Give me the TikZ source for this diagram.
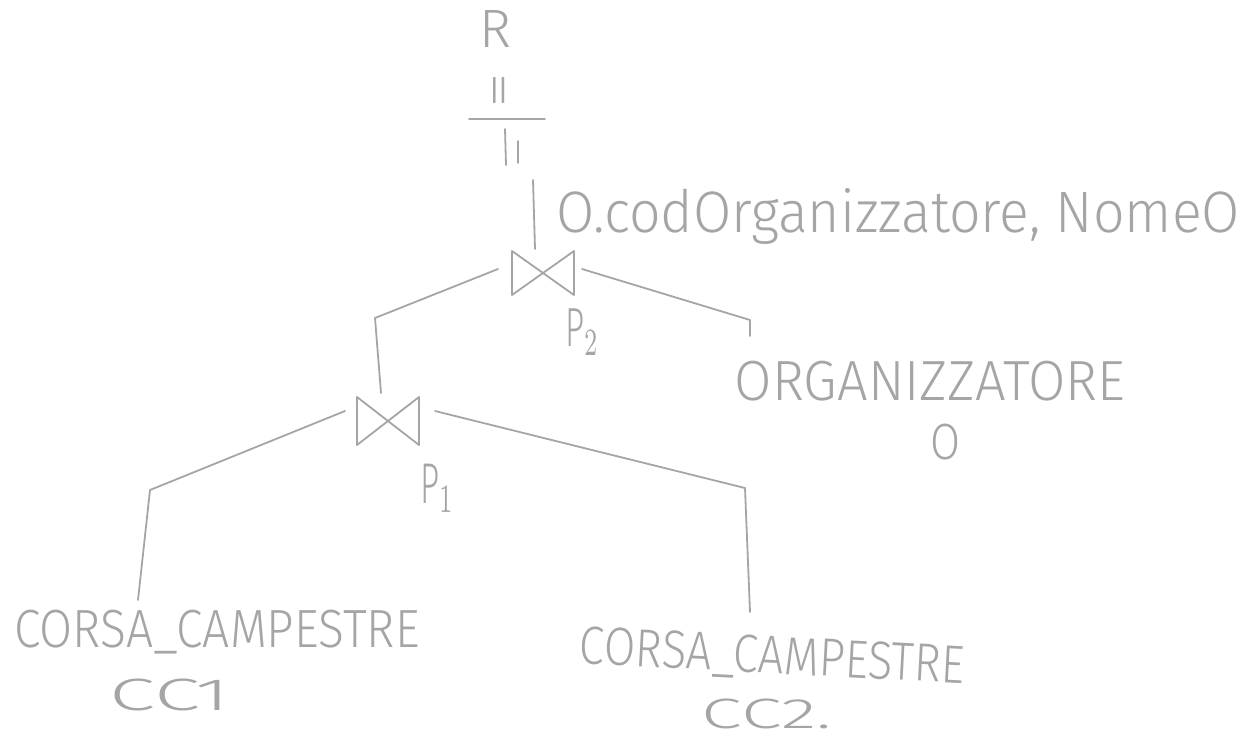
\documentclass[tikz,border=0pt]{standalone}
\usepackage{fontspec}
\usepackage{graphicx}
\newfontfamily\hand{Fira Sans}[UprightFont=* Light]
\usetikzlibrary{calc}
\definecolor{pencil}{RGB}{165,165,165}
\newcommand\fitt[3]{\resizebox*{#1pt}{#2pt}{\hand #3}}
\tikzset{
  pen/.style={draw=pencil, line width=1.8pt, line cap=round, line join=round},
  txt/.style={inner sep=0pt, outer sep=0pt, text=pencil},
  opbox/.style={inner sep=0pt, outer sep=0pt, minimum width=#1},
}
\begin{document}
\begin{tikzpicture}[x=1pt,y=-1pt]
\useasboundingbox (0,0) rectangle (1260,740);
% result and projection
\node[txt] (R) at (495,29) {\fitt{32}{37}{R}};
\node[txt, rotate=90] (eq) at (504,90) {\fitt{36}{22}{=}};
\node[opbox=76pt, minimum height=46pt] (pi) at (507,142) {};
\draw[pen] (pi.north west) -- (pi.north east);
\draw[pen] ($(pi.north)+(-2,10)$) -- ($(pi.south)+(-1,0)$);
\draw[pen] ($(pi.north)+(11,22)$) -- ($(pi.south)+(11,-2)$);
\node[txt, anchor=west] (attr) at (556,216) {\fitt{684}{56}{O.codOrganizzatore, NomeO}};
% join P2
\node[opbox=62pt, minimum height=44pt] (j2) at (543,273) {};
\draw[pen] (j2.north west) -- (j2.south west) -- (j2.north east) -- (j2.south east) -- cycle;
\node[txt] (p2) at (582,332) {\fitt{34}{46}{P$_2$}};
\coordinate (projtop) at (533,180);
\draw[pen] (projtop) -- ($(j2.north)+(-8,-2)$);
% join P1
\node[opbox=62pt, minimum height=48pt] (j1) at (388,421) {};
\draw[pen] (j1.north west) -- (j1.south west) -- (j1.north east) -- (j1.south east) -- cycle;
\node[txt] (p1) at (437,488) {\fitt{34}{48}{P$_1$}};
% relations
\node[txt] (org) at (930,381) {\fitt{390}{40}{ORGANIZZATORE}};
\node[txt] (o) at (945,442) {\fitt{30}{36}{O}};
\node[txt] (cc1rel) at (217,632) {\fitt{405}{44}{CORSA\_CAMPESTRE}};
\node[txt] (cc1) at (170,695) {\fitt{120}{32}{CC1}};
\node[txt, rotate=-3] (cc2rel) at (772,658) {\fitt{385}{44}{CORSA\_CAMPESTRE}};
\node[txt] (cc2) at (767,714) {\fitt{130}{30}{CC2.}};
% connectors
\coordinate (c2l) at (375,318);
\coordinate (c2r) at (750,320);
\coordinate (orgtop) at (750,336);
\coordinate (c1l) at (150,490);
\coordinate (c1r) at (745,488);
\coordinate (cc1top) at (138,600);
\coordinate (cc2top) at (750,612);
\draw[pen] ($(j2.west)+(-14,-4)$) -- (c2l) -- ($(j1.north)+(-7,-4)$);
\draw[pen] ($(j2.east)+(8,-4)$) -- (c2r) -- (orgtop);
\draw[pen] ($(j1.west)+(-12,-10)$) -- (c1l) -- (cc1top);
\draw[pen] ($(j1.east)+(16,-10)$) -- (c1r) -- (cc2top);
\end{tikzpicture}
\end{document}
